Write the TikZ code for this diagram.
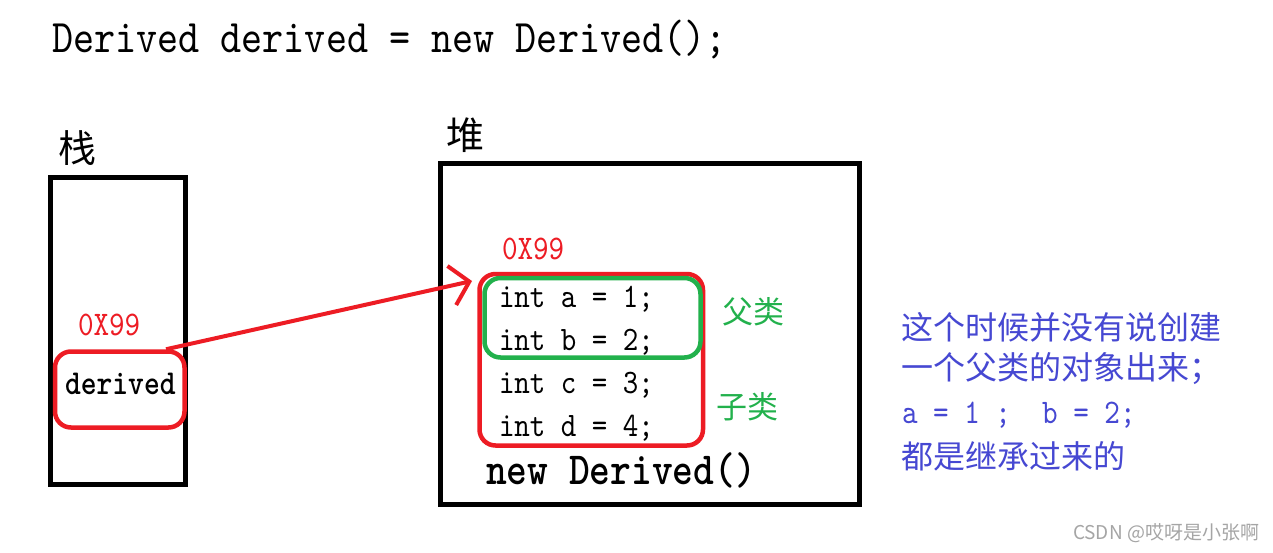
\documentclass[tikz,border=0pt]{standalone}
\usepackage{fontspec}
\usetikzlibrary{arrows.meta}
\newfontfamily\mono[FakeStretch=0.86]{lmmono10-regular.otf}
\newfontfamily\monob[FakeStretch=0.86]{lmmonolt10-bold.otf}
\newfontfamily\cjk{Noto Sans CJK SC}
\definecolor{pred}{RGB}{237,28,36}
\definecolor{pgreen}{RGB}{34,177,76}
\definecolor{pblue}{RGB}{70,72,210}
\definecolor{pgray}{RGB}{165,165,165}
\newcommand{\fs}[1]{\fontsize{#1}{#1}\selectfont}
\tikzset{
  txt/.style={inner sep=0, outer sep=0},
  redbox/.style={draw=pred, line width=4.5pt, rounded corners=16pt, inner sep=0},
  greenbox/.style={draw=pgreen, line width=4.5pt, rounded corners=16pt, inner sep=0},
  code/.style={txt, anchor=base west, font=\mono\fs{34.3}},
  addr/.style={txt, anchor=base west, font=\mono\fs{34.5}, text=pred},
  cls/.style={txt, anchor=west, font=\cjk\fs{31}, text=pgreen},
  note/.style={txt, anchor=west, font=\cjk\fs{32}, text=pblue},
  title/.style={txt, anchor=center, font=\cjk\fs{38}},
}
\begin{document}
\begin{tikzpicture}[x=1pt,y=-1pt]
\useasboundingbox[fill=white] (0,0) rectangle (1273,552);

% title line
\node[code, font=\mono\fs{46.7}] (decl) at (52,52) {Derived derived = new Derived();};

% stack
\node[title] (stacklbl) at (77,148) {栈};
\node[draw=black, line width=5pt, inner sep=0, minimum width=135.5pt, minimum height=307pt] (stack) at (117.75,331) {};
\node[addr] (saddr) at (78,335) {0X99};
\node[redbox, minimum width=129.5pt, minimum height=76pt] (sref) at (119.75,389.5) {};
\node[code, font=\monob\fs{35}] (sderived) at (65,394) {derived};

% heap
\node[title] (heaplbl) at (465,135) {堆};
\node[draw=black, line width=5pt, inner sep=0, minimum width=419.5pt, minimum height=341pt] (heap) at (649.75,334) {};
\node[addr] (haddr) at (502,259) {0X99};
\node[redbox, minimum width=223.5pt, minimum height=171.5pt] (hobj) at (591.25,359.75) {};
\node[greenbox, minimum width=216pt, minimum height=79.5pt] (hparent) at (592.5,317.75) {};
\node[code] (la) at (499,307) {int a = 1;};
\node[code] (lb) at (499,350) {int b = 2;};
\node[code] (lc) at (499,393) {int c = 3;};
\node[code] (ld) at (499,436) {int d = 4;};
\node[code, font=\monob\fs{46}] (newd) at (486,484) {new Derived()};
\node[cls] (fulei) at (722,312) {父类};
\node[cls] (zilei) at (716,407) {子类};

% arrow
\coordinate (tip) at (472,281);
\draw[pred, line width=4pt, -{Straight Barb[length=18pt,width=40pt]}] (sref.41) -- (tip);

% note
\node[note] (n1) at (901,327) {这个时候并没有说创建};
\node[note] (n2) at (901,369) {一个父类的对象出来；};
\node[txt, anchor=base west, font=\mono\fs{34.5}, text=pblue] (n3) at (902,423) {a = 1 ;\ \ b = 2;};
\node[note] (n4) at (901,456) {都是继承过来的};

% watermark
\node[txt, anchor=east, font=\cjk\fs{19}, text=pgray] (wm) at (1259,533) {CSDN @哎呀是小张啊};
\end{tikzpicture}
\end{document}
